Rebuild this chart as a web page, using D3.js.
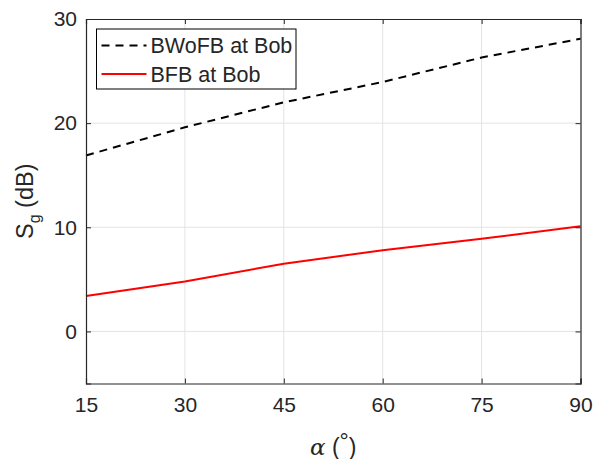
<!DOCTYPE html>
<html>
<head>
<meta charset="utf-8">
<script src="https://cdn.jsdelivr.net/npm/d3@7"></script>
<style>
  body { margin: 0; background: #fff; }
  text { font-family: "Liberation Sans", Arial, sans-serif; fill: #262626; }
</style>
</head>
<body>
<div id="container"></div>
<script>
// data
const alpha = [15, 30, 45, 60, 75, 90]
const bwofb = [16.9, 19.6, 22.0, 23.95, 26.3, 28.1]
const bfb = [3.4, 4.8, 6.5, 7.8, 8.9, 10.1]
const xTicks = [15, 30, 45, 60, 75, 90]
const yTicks = [0, 10, 20, 30]
const seriesNames = ['BWoFB at Bob', 'BFB at Bob']

const width = 600
const height = 459
const margin = { top: 19, right: 19.5, bottom: 75.5, left: 86 }
const axisColor = '#262626'

const svg = d3.select('#container').append('svg')
    .attr('width', width).attr('height', height)

const xScale = d3.scaleLinear().domain([15, 90])
    .range([margin.left, width - margin.right])
const yScale = d3.scaleLinear().domain([-5, 30])
    .range([height - margin.bottom, margin.top])

const x0 = xScale.range()[0], x1 = xScale.range()[1]
const y0 = yScale.range()[0], y1 = yScale.range()[1]

// grid
const grid = svg.append('g').attr('stroke', '#e3e3e3').attr('stroke-width', 1)
grid.selectAll('.gx').data(xTicks.slice(1, -1)).enter().append('line')
    .attr('x1', d => xScale(d)).attr('x2', d => xScale(d))
    .attr('y1', y0).attr('y2', y1)
grid.selectAll('.gy').data(yTicks.filter(d => d < 30)).enter().append('line')
    .attr('x1', x0).attr('x2', x1)
    .attr('y1', d => yScale(d)).attr('y2', d => yScale(d))

// lines
const line = d3.line().x((d, i) => xScale(alpha[i])).y(d => yScale(d))

svg.append('path').datum(bwofb)
    .attr('d', line)
    .attr('fill', 'none')
    .attr('stroke', '#000')
    .attr('stroke-width', 2)
    .attr('stroke-dasharray', '8,6')

svg.append('path').datum(bfb)
    .attr('d', line)
    .attr('fill', 'none')
    .attr('stroke', '#ff0000')
    .attr('stroke-width', 2)

// axes (ticks inside, box all round)
const xAxis = d3.axisBottom(xScale).tickValues(xTicks).tickSize(-5).tickPadding(14)
const yAxis = d3.axisLeft(yScale).tickValues(yTicks).tickSize(-5).tickPadding(9)

svg.append('g').attr('transform', `translate(0,${y0})`).call(xAxis)
svg.append('g').attr('transform', `translate(${x0},0)`).call(yAxis)

svg.append('g').attr('transform', `translate(0,${y1})`)
    .call(d3.axisTop(xScale).tickValues(xTicks).tickSize(-5).tickFormat(''))
svg.append('g').attr('transform', `translate(${x1},0)`)
    .call(d3.axisRight(yScale).tickValues(yTicks).tickSize(-5).tickFormat(''))

svg.selectAll('.domain').attr('stroke', axisColor).attr('stroke-width', 1.2)
svg.selectAll('.tick line').attr('stroke', axisColor)
svg.selectAll('.tick text')
    .style('font-family', '"Liberation Sans", Arial, sans-serif')
    .style('font-size', '21px')
    .attr('fill', axisColor)

// axis labels
svg.append('text')
    .attr('transform', `translate(33,${(y0 + y1) / 2}) rotate(-90)`)
    .attr('text-anchor', 'middle')
    .style('font-size', '23.5px')
    .html('S<tspan dy="7" font-size="16px">g</tspan><tspan dy="-7"> (dB)</tspan>')

const xl = svg.append('text')
    .attr('x', (x0 + x1) / 2).attr('y', 455)
    .attr('text-anchor', 'middle')
    .style('font-size', '23px')
xl.append('tspan').text('α')
    .style('font-family', '"DejaVu Serif", "Liberation Serif", serif')
    .style('font-style', 'italic')
xl.append('tspan').text(' (')
xl.append('tspan').text('°').attr('dy', -6)
xl.append('tspan').text(')').attr('dy', 6)

// legend
const legend = svg.append('g').attr('transform', 'translate(96.5,29)')
legend.append('rect')
    .attr('width', 199.5).attr('height', 60)
    .attr('fill', '#fff').attr('stroke', '#000').attr('stroke-width', 1)

const rows = legend.selectAll('.row').data(seriesNames).enter().append('g')
    .attr('transform', (d, i) => `translate(0,${16.5 + i * 28.5})`)
rows.append('line')
    .attr('x1', 5).attr('x2', 50)
    .attr('stroke', (d, i) => i === 0 ? '#000' : '#ff0000')
    .attr('stroke-width', 2)
    .attr('stroke-dasharray', (d, i) => i === 0 ? '8,6' : null)
rows.append('text')
    .attr('x', 54).attr('y', 7.5)
    .style('font-size', '21.5px')
    .attr('fill', '#000')
    .text(d => d)
</script>
</body>
</html>
